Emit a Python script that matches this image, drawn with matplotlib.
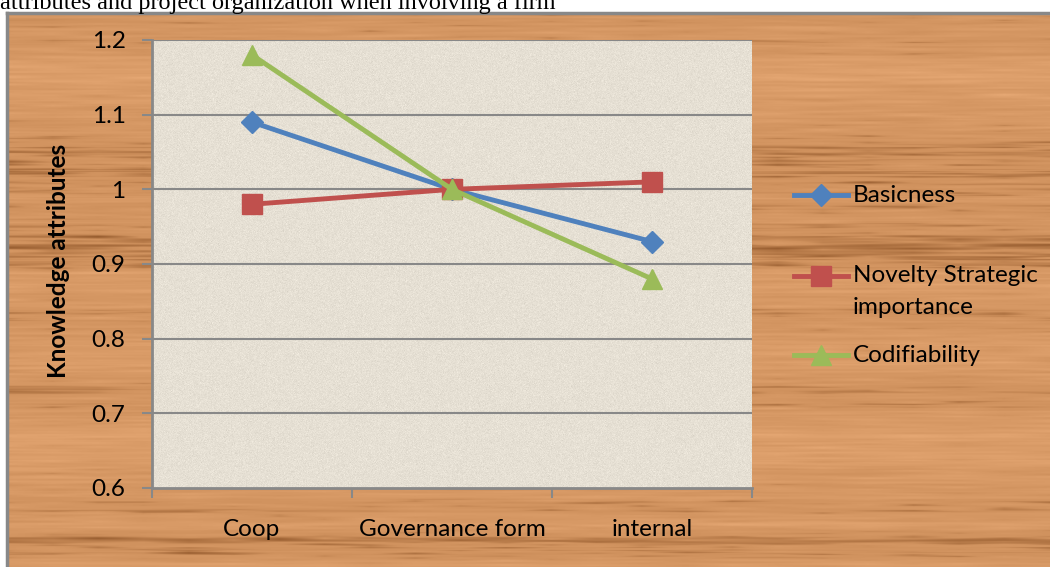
"""
plot.py — Knowledge attributes by governance form (wood-textured chart)
"""
import numpy as np
import matplotlib
matplotlib.use("Agg")
import matplotlib.pyplot as plt
from matplotlib.lines import Line2D

plt.rcParams["font.family"] = ["Lato", "DejaVu Sans"]

# ── Data ──────────────────────────────────────────────────────────────
CATEGORIES = ["Coop", "Governance form", "internal"]
BASICNESS = [1.09, 1.00, 0.93]
NOVELTY = [0.98, 1.00, 1.01]
CODIFIABILITY = [1.18, 1.00, 0.88]
SERIES_NAMES = ["Basicness", "Novelty Strategic\nimportance", "Codifiability"]
Y_TICKS = [0.6, 0.7, 0.8, 0.9, 1.0, 1.1, 1.2]

# Office 2007 palette
COLORS = ["#4F81BD", "#C0504D", "#9BBB59"]
MARKERS = ["D", "s", "^"]
MSIZES = [11, 14, 14]
GREY = "#888888"
FS = 17.5

W, H = 1050, 567
fig = plt.figure(figsize=(W / 100, H / 100), dpi=100)
fig.patch.set_facecolor("white")


# ── Textures (decoration only) ────────────────────────────────────────
def wood_texture(h, w, seed=3):
    rng = np.random.default_rng(seed)
    coarse = rng.normal(size=(h, 24))
    xs = np.linspace(0, 23, w)
    noise = np.array([np.interp(xs, np.arange(24), row) for row in coarse])
    k = np.array([0.25, 0.5, 0.25])
    noise = np.apply_along_axis(lambda c: np.convolve(c, k, mode="same"), 0, noise)
    band = np.convolve(rng.normal(size=h), np.ones(25) / 25, mode="same")
    v = 0.55 * noise + 3.0 * band[:, None]
    streak = np.clip(-v - 0.5, 0, None)
    base = np.array([212, 150, 98], dtype=float)
    dark = np.array([135, 78, 35], dtype=float)
    img = base[None, None, :] + 9 * v[..., None]
    t = np.clip(streak * 0.5, 0, 1)[..., None]
    img = img * (1 - t) + dark * t
    return np.clip(img, 0, 255).astype(np.uint8)


def stone_texture(h, w, seed=7):
    rng = np.random.default_rng(seed)
    base = np.array([230, 224, 212], dtype=float)
    n = rng.normal(size=(h, w))
    img = base[None, None, :] + 4 * n[..., None]
    return np.clip(img, 0, 255).astype(np.uint8)


# chart frame with wood fill, starts below the caption strip
frame_left, frame_top = 7 / W, 1 - 13 / H
bg = fig.add_axes([frame_left, 0, 1 - frame_left, frame_top])
bg.imshow(wood_texture(H - 13, W - 7), aspect="auto", interpolation="bilinear")
bg.set_xticks([])
bg.set_yticks([])
for side in ["right", "bottom"]:
    bg.spines[side].set_visible(False)
for side in ["left", "top"]:
    bg.spines[side].set_color(GREY)
    bg.spines[side].set_linewidth(2.5)

# cut-off caption line above the chart
fig.text(0.0, 1 - 9 / H, "attributes and project organization when involving a firm",
         family="Liberation Serif", fontsize=17.5, va="baseline", ha="left")

# ── Main plot ─────────────────────────────────────────────────────────
ax = fig.add_axes([152 / W, 1 - 488 / H, 600 / W, 448 / H])
ax.set_facecolor("none")
ax.imshow(stone_texture(448, 600), extent=[0, 1, 0, 1], transform=ax.transAxes,
          aspect="auto", zorder=0)

x = np.arange(len(CATEGORIES))
for vals, col, mk, ms in zip([BASICNESS, NOVELTY, CODIFIABILITY], COLORS, MARKERS, MSIZES):
    ax.plot(x, vals, color=col, lw=3.5, marker=mk, ms=ms, zorder=3)

ax.set_xlim(-0.5, 2.5)
ax.set_ylim(0.6, 1.2)
ax.set_yticks(Y_TICKS)
ax.set_yticklabels([f"{v:g}" for v in Y_TICKS])
for v in Y_TICKS[1:]:
    ax.axhline(v, color=GREY, lw=1.5, zorder=1)

ax.set_xticks([-0.5, 0.5, 1.5, 2.5])
ax.set_xticklabels([])
ax.set_xticks(x, minor=True)
ax.set_xticklabels(CATEGORIES, minor=True)
ax.tick_params(axis="x", which="major", length=7, width=1.5, color=GREY)
ax.tick_params(axis="x", which="minor", length=0, pad=22, labelsize=FS)
ax.tick_params(axis="y", length=7, width=1.5, color=GREY, pad=12, labelsize=FS)

for side in ["top", "right"]:
    ax.spines[side].set_visible(False)
for side in ["left", "bottom"]:
    ax.spines[side].set_color(GREY)
    ax.spines[side].set_linewidth(2)

fig.text(58 / W, 1 - 261 / H, "Knowledge attributes", rotation=90,
         ha="center", va="center", fontsize=17.5, fontweight="bold")

# ── Legend (drawn by hand to match the original layout) ───────────────
legend_rows = [195, 276, 355]
for name, col, mk, ms, yp in zip(SERIES_NAMES, COLORS, MARKERS, MSIZES, legend_rows):
    yf = 1 - yp / H
    fig.add_artist(Line2D([794 / W, 848 / W], [yf, yf], color=col, lw=3.5,
                          transform=fig.transFigure))
    fig.add_artist(Line2D([821 / W], [yf], color=col, marker=mk, ms=ms,
                          transform=fig.transFigure))
    fig.text(853 / W, yf, name.split("\n")[0], ha="left", va="center", fontsize=FS)
    if "\n" in name:
        fig.text(853 / W, 1 - (yp + 31) / H, name.split("\n")[1],
                 ha="left", va="center", fontsize=FS)

fig.savefig("out.png", dpi=100)
